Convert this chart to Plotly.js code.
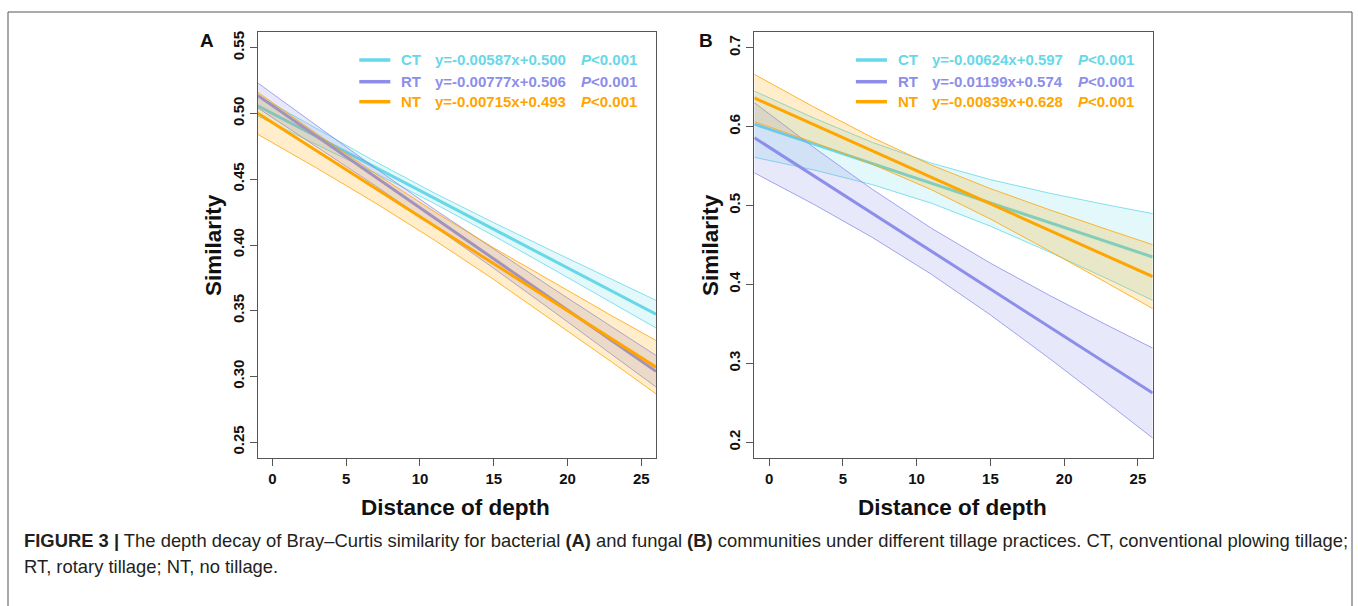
<!DOCTYPE html>
<html>
<head>
<meta charset="utf-8">
<script src="https://cdn.plot.ly/plotly-3.0.1.min.js"></script>
<style>
  html, body { margin: 0; padding: 0; background: #ffffff; }
  #chart { width: 1358px; height: 606px; }
</style>
</head>
<body>
<div id="chart"></div>
<script>
// ---------------- data ----------------
const depthX = [-1, 3, 7, 11, 15, 19, 23, 26];

// Panel A: bacterial communities
const ctA_fit = [0.5059, 0.4824, 0.4589, 0.4354, 0.4120, 0.3885, 0.3650, 0.3474];
const ctA_up  = [0.5137, 0.4882, 0.4633, 0.4394, 0.4170, 0.3953, 0.3738, 0.3579];
const ctA_lo  = [0.4981, 0.4766, 0.4545, 0.4314, 0.4070, 0.3817, 0.3562, 0.3369];
const rtA_fit = [0.5138, 0.4827, 0.4516, 0.4205, 0.3895, 0.3584, 0.3273, 0.3040];
const rtA_up  = [0.5233, 0.4905, 0.4583, 0.4270, 0.3967, 0.3670, 0.3378, 0.3160];
const rtA_lo  = [0.5043, 0.4749, 0.4449, 0.4140, 0.3823, 0.3498, 0.3168, 0.2920];
const ntA_fit = [0.5002, 0.4716, 0.4430, 0.4144, 0.3858, 0.3572, 0.3286, 0.3071];
const ntA_up  = [0.5162, 0.4847, 0.4542, 0.4252, 0.3978, 0.3717, 0.3462, 0.3274];
const ntA_lo  = [0.4842, 0.4585, 0.4318, 0.4036, 0.3738, 0.3427, 0.3110, 0.2868];

// Panel B: fungal communities
const ctB_fit = [0.6032, 0.5783, 0.5533, 0.5284, 0.5034, 0.4784, 0.4535, 0.4348];
const ctB_up  = [0.6452, 0.6113, 0.5801, 0.5538, 0.5329, 0.5157, 0.5005, 0.4898];
const ctB_lo  = [0.5612, 0.5453, 0.5265, 0.5030, 0.4739, 0.4411, 0.4065, 0.3798];
const rtB_fit = [0.5860, 0.5380, 0.4901, 0.4421, 0.3942, 0.3462, 0.2982, 0.2623];
const rtB_up  = [0.6305, 0.5741, 0.5206, 0.4713, 0.4270, 0.3862, 0.3475, 0.3193];
const rtB_lo  = [0.5415, 0.5019, 0.4596, 0.4129, 0.3614, 0.3062, 0.2489, 0.2053];
const ntB_fit = [0.6364, 0.6028, 0.5693, 0.5357, 0.5022, 0.4686, 0.4350, 0.4099];
const ntB_up  = [0.6664, 0.6253, 0.5862, 0.5513, 0.5215, 0.4947, 0.4691, 0.4504];
const ntB_lo  = [0.6064, 0.5803, 0.5524, 0.5201, 0.4829, 0.4425, 0.4009, 0.3694];

const groups = ["CT", "RT", "NT"];
const eqA = ["y=-0.00587x+0.500", "y=-0.00777x+0.506", "y=-0.00715x+0.493"];
const eqB = ["y=-0.00624x+0.597", "y=-0.01199x+0.574", "y=-0.00839x+0.628"];
const pText = ["P<0.001", "P<0.001", "P<0.001"];

const xTicksA = [0, 5, 10, 15, 20, 25];
const yTicksA = [0.25, 0.30, 0.35, 0.40, 0.45, 0.50, 0.55];
const yTickTextA = ["0.25", "0.30", "0.35", "0.40", "0.45", "0.50", "0.55"];
const yTicksB = [0.2, 0.3, 0.4, 0.5, 0.6, 0.7];
const yTickTextB = ["0.2", "0.3", "0.4", "0.5", "0.6", "0.7"];

// ---------------- styling ----------------
const colors = ["#66D8E7", "#8C8EEA", "#FFA500"];
const fills  = ["rgba(102,216,231,0.18)", "rgba(140,142,234,0.2)", "rgba(255,165,0,0.2)"];
const FONT = "Liberation Sans, Arial, sans-serif";

const traces = [];
function addSeries(xa, ya, up, lo, fit, i) {
  traces.push({x: depthX, y: up, xaxis: xa, yaxis: ya, mode: "lines",
    line: {color: colors[i], width: 0.8}, hoverinfo: "skip", showlegend: false});
  traces.push({x: depthX, y: lo, xaxis: xa, yaxis: ya, mode: "lines", fill: "tonexty",
    fillcolor: fills[i], line: {color: colors[i], width: 0.8}, hoverinfo: "skip", showlegend: false});
  traces.push({x: depthX, y: fit, xaxis: xa, yaxis: ya, mode: "lines",
    line: {color: colors[i], width: 3}, name: groups[i], showlegend: false});
}
addSeries("x", "y", ctA_up, ctA_lo, ctA_fit, 0);
addSeries("x", "y", rtA_up, rtA_lo, rtA_fit, 1);
addSeries("x", "y", ntA_up, ntA_lo, ntA_fit, 2);
addSeries("x2", "y2", ctB_up, ctB_lo, ctB_fit, 0);
addSeries("x2", "y2", rtB_up, rtB_lo, rtB_fit, 1);
addSeries("x2", "y2", ntB_up, ntB_lo, ntB_fit, 2);

const W = 1358, H = 606;
const domA = [257.7 / W, 656 / W];
const domB = [754.3 / W, 1152.7 / W];
const domY = [1 - 458 / H, 1 - 32 / H];

function xaxisDef(dom, anchor) {
  return {domain: dom, anchor: anchor, range: [-1, 26], tickvals: xTicksA,
    ticktext: xTicksA.map(String), ticks: "outside", ticklen: 7, tickwidth: 1,
    tickcolor: "#555", showline: true, linecolor: "#555", linewidth: 1.2, mirror: true,
    showgrid: false, zeroline: false, fixedrange: true,
    tickfont: {family: FONT, size: 15, color: "#111", weight: "bold"}};
}
function yaxisDef(range, vals, txt, anchor) {
  return {domain: domY, anchor: anchor, range: range, tickvals: vals, ticktext: txt,
    tickangle: -90, ticks: "outside", ticklen: 7, tickwidth: 1, tickcolor: "#555",
    showline: true, linecolor: "#555", linewidth: 1.2, mirror: true,
    showgrid: false, zeroline: false, fixedrange: true,
    tickfont: {family: FONT, size: 15, color: "#111", weight: "bold"}};
}

const annotations = [];
const shapes = [];
const legRows = [0.9343, 0.8833, 0.8364];
function addLegend(xr, yr, eqs) {
  for (let i = 0; i < 3; i++) {
    shapes.push({type: "line", xref: xr + " domain", yref: yr + " domain",
      x0: 0.255, x1: 0.333, y0: legRows[i], y1: legRows[i],
      line: {color: colors[i], width: 3.5}});
    const f = {family: FONT, size: 15, color: colors[i], weight: "bold"};
    annotations.push({xref: xr + " domain", yref: yr + " domain", x: 0.355, y: legRows[i],
      xanchor: "left", yanchor: "middle", showarrow: false, text: groups[i], font: f});
    annotations.push({xref: xr + " domain", yref: yr + " domain", x: 0.441, y: legRows[i],
      xanchor: "left", yanchor: "middle", showarrow: false, text: eqs[i], font: f});
    annotations.push({xref: xr + " domain", yref: yr + " domain", x: 0.807, y: legRows[i],
      xanchor: "left", yanchor: "middle", showarrow: false,
      text: "<i>P</i>" + pText[i].slice(1).replace("<", "&lt;"), font: f});
  }
}
addLegend("x", "y", eqA);
addLegend("x2", "y2", eqB);

// panel letters
annotations.push({xref: "paper", yref: "paper", x: 207 / W, y: 1 - 40 / H, xanchor: "center",
  yanchor: "middle", showarrow: false, text: "A",
  font: {family: FONT, size: 19, color: "#111", weight: "bold"}});
annotations.push({xref: "paper", yref: "paper", x: 706 / W, y: 1 - 40 / H, xanchor: "center",
  yanchor: "middle", showarrow: false, text: "B",
  font: {family: FONT, size: 19, color: "#111", weight: "bold"}});

// axis titles
const titleFont = {family: FONT, size: 22.5, color: "#111", weight: "bold"};
[[456, 213], [953, 710]].forEach(([cx, ly]) => {
  annotations.push({xref: "paper", yref: "paper", x: cx / W, y: 1 - 507 / H, xanchor: "center",
    yanchor: "middle", showarrow: false, text: "Distance of depth", font: titleFont});
  annotations.push({xref: "paper", yref: "paper", x: ly / W, y: 1 - 245 / H, xanchor: "center",
    yanchor: "middle", showarrow: false, text: "Similarity", textangle: -90, font: titleFont});
});

// caption
const capFont = {family: "Liberation Sans, Arial, sans-serif", size: 18.4, color: "#231F20"};
annotations.push({xref: "paper", yref: "paper", x: 22 / W, y: 1 - 540 / H, xanchor: "left",
  yanchor: "middle", showarrow: false, font: capFont,
  text: "<b>FIGURE 3 |</b> The depth decay of Bray–Curtis similarity for bacterial <b>(A)</b> and fungal <b>(B)</b> communities under different tillage practices. CT, conventional plowing tillage;"});
annotations.push({xref: "paper", yref: "paper", x: 22 / W, y: 1 - 566 / H, xanchor: "left",
  yanchor: "middle", showarrow: false, font: capFont,
  text: "RT, rotary tillage; NT, no tillage."});

// outer figure frame
shapes.push({type: "rect", xref: "paper", yref: "paper", x0: 8 / W, x1: 1352 / W,
  y0: -0.05, y1: 1 - 12 / H, line: {color: "#555", width: 1}, fillcolor: "rgba(0,0,0,0)", layer: "below"});

const layout = {
  width: W, height: H,
  margin: {l: 0, r: 0, t: 0, b: 0},
  paper_bgcolor: "#ffffff", plot_bgcolor: "#ffffff",
  showlegend: false,
  xaxis: xaxisDef(domA, "y"),
  yaxis: yaxisDef([0.238, 0.562], yTicksA, yTickTextA, "x"),
  xaxis2: xaxisDef(domB, "y2"),
  yaxis2: yaxisDef([0.18, 0.72], yTicksB, yTickTextB, "x2"),
  annotations: annotations,
  shapes: shapes,
  font: {family: FONT}
};

Plotly.newPlot("chart", traces, layout, {staticPlot: true, displayModeBar: false});
</script>
</body>
</html>
